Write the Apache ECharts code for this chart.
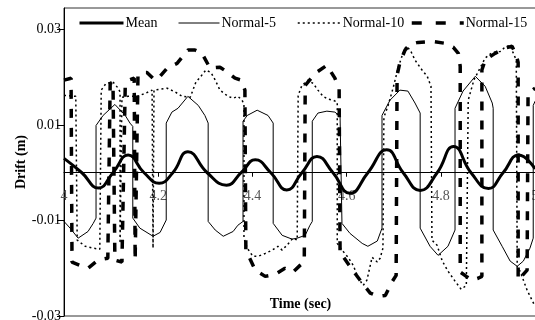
<!DOCTYPE html>
<html>
<head>
<meta charset="utf-8">
<script src="https://cdn.jsdelivr.net/npm/echarts@6/dist/echarts.min.js"></script>
<style>
  html, body { margin: 0; padding: 0; background: #fff; }
  #chart { width: 535px; height: 320px; }
</style>
</head>
<body>
<div id="chart"></div>
<script>
  // [time (sec), drift (m)]
  const meanPts = [
    [4.000, 0.0030], [4.038, 0], [4.073, -0.0032], [4.104, 0], [4.136, 0.0037], [4.170, 0],
    [4.202, -0.0022], [4.231, 0], [4.263, 0.0044], [4.304, 0], [4.345, -0.0026], [4.376, 0],
    [4.406, 0.0027], [4.439, 0], [4.473, -0.0036], [4.505, 0], [4.537, 0.0034], [4.571, 0],
    [4.607, -0.0043], [4.645, 0], [4.685, 0.0048], [4.720, 0], [4.756, -0.0037], [4.792, 0],
    [4.827, 0.0055], [4.864, 0], [4.901, -0.0033], [4.932, 0], [4.965, 0.0037], [5.000, 0.0008]
  ];
  const normal5Pts = [
    [4.000, -0.0102], [4.013, -0.0116], [4.030, -0.0137], [4.051, -0.0123], [4.062, -0.0106], [4.068, -0.0095],
    [4.068, 0.0099], [4.083, 0.0120], [4.108, 0.0143], [4.130, 0.0120], [4.140, 0.0104], [4.146, 0.0097],
    [4.146, -0.0095], [4.161, -0.0116], [4.189, -0.0133], [4.204, -0.0125], [4.217, -0.0099],
    [4.217, 0.0104], [4.229, 0.0127], [4.242, 0.0135], [4.263, 0.0160], [4.285, 0.0141], [4.299, 0.0120], [4.306, 0.0104],
    [4.306, -0.0102], [4.321, -0.0120], [4.338, -0.0133], [4.359, -0.0123], [4.369, -0.0110], [4.380, -0.0102],
    [4.380, 0.0108], [4.389, 0.0120], [4.410, 0.0131], [4.433, 0.0120], [4.444, 0.0104],
    [4.444, -0.0106], [4.463, -0.0131], [4.484, -0.0139], [4.495, -0.0137], [4.512, -0.0131], [4.522, -0.0110], [4.527, -0.0102],
    [4.527, 0.0108], [4.539, 0.0125], [4.558, 0.0129], [4.575, 0.0127], [4.586, 0.0118], [4.590, 0.0114],
    [4.590, -0.0106], [4.607, -0.0127], [4.633, -0.0148], [4.645, -0.0154], [4.665, -0.0143], [4.675, -0.0116],
    [4.675, 0.0120], [4.692, 0.0152], [4.713, 0.0173], [4.730, 0.0171], [4.745, 0.0146], [4.756, 0.0125],
    [4.756, -0.0116], [4.777, -0.0154], [4.794, -0.0173], [4.815, -0.0154], [4.830, -0.0120],
    [4.830, 0.0135], [4.847, 0.0171], [4.873, 0.0202], [4.894, 0.0181], [4.909, 0.0146], [4.911, 0.0135],
    [4.911, -0.0120], [4.930, -0.0154], [4.947, -0.0185], [4.962, -0.0196], [4.975, -0.0185], [4.989, -0.0158], [4.996, -0.0137],
    [4.996, 0.0141], [5.000, 0.0150]
  ];
  const normal10Pts = [
    [4.000, 0.0162], [4.025, 0.0160], [4.028, -0.0141], [4.045, -0.0154], [4.062, -0.0158], [4.076, -0.0160],
    [4.079, 0.0173], [4.089, 0.0187], [4.104, 0.0190], [4.115, 0.0177], [4.119, 0.0169],
    [4.119, -0.0148], [4.123, -0.0152], [4.123, 0.0158], [4.136, 0.0160], [4.155, 0.0160], [4.172, 0.0166], [4.187, 0.0173],
    [4.189, -0.0158], [4.191, 0.0173], [4.204, 0.0175], [4.219, 0.0177], [4.236, 0.0169], [4.251, 0.0160], [4.268, 0.0158],
    [4.280, 0.0190], [4.289, 0.0200], [4.301, 0.0215], [4.312, 0.0210], [4.321, 0.0194], [4.331, 0.0173], [4.348, 0.0160],
    [4.359, 0.0156], [4.369, 0.0160], [4.378, 0.0152], [4.382, 0.0143],
    [4.382, -0.0137], [4.389, -0.0158], [4.401, -0.0175], [4.412, -0.0175], [4.427, -0.0169], [4.442, -0.0162],
    [4.454, -0.0154], [4.463, -0.0162], [4.473, -0.0152], [4.486, -0.0137], [4.495, -0.0141],
    [4.497, 0.0162], [4.505, 0.0183], [4.518, 0.0194], [4.529, 0.0187], [4.539, 0.0173], [4.550, 0.0160],
    [4.561, 0.0154], [4.571, 0.0152], [4.580, 0.0148],
    [4.580, -0.0148], [4.590, -0.0162], [4.603, -0.0177], [4.614, -0.0194], [4.624, -0.0219], [4.635, -0.0236],
    [4.643, -0.0225], [4.654, -0.0177], [4.665, -0.0187], [4.671, -0.0179], [4.677, -0.0158],
    [4.679, 0.0116], [4.688, 0.0141], [4.699, 0.0179], [4.709, 0.0219], [4.718, 0.0246], [4.726, 0.0265],
    [4.735, 0.0257], [4.745, 0.0236], [4.760, 0.0215], [4.771, 0.0202], [4.779, 0.0181],
    [4.781, -0.0141], [4.792, -0.0152], [4.803, -0.0185], [4.815, -0.0206], [4.830, -0.0227], [4.843, -0.0244], [4.854, -0.0236],
    [4.858, 0.0152], [4.870, 0.0194], [4.883, 0.0219], [4.894, 0.0240], [4.909, 0.0252], [4.926, 0.0254],
    [4.936, 0.0263], [4.947, 0.0267], [4.953, 0.0252], [4.960, 0.0236],
    [4.962, -0.0200], [4.968, -0.0206], [4.983, -0.0246], [5.000, -0.0280]
  ];
  const normal15Pts = [
    [4.000, 0.0194], [4.015, 0.0198], [4.017, -0.0187], [4.034, -0.0194], [4.051, -0.0200], [4.072, -0.0183], [4.093, -0.0179],
    [4.098, 0.0187], [4.104, 0.0190], [4.108, -0.0183], [4.123, -0.0187], [4.130, 0.0183], [4.138, 0.0194], [4.149, 0.0198],
    [4.151, -0.0183], [4.155, -0.0183], [4.157, 0.0204], [4.165, 0.0210], [4.176, 0.0210], [4.193, 0.0194], [4.204, 0.0202],
    [4.219, 0.0219], [4.240, 0.0229], [4.263, 0.0257], [4.278, 0.0257], [4.293, 0.0250], [4.310, 0.0219], [4.331, 0.0221],
    [4.348, 0.0210], [4.363, 0.0198], [4.376, 0.0194], [4.384, 0.0173],
    [4.386, -0.0162], [4.406, -0.0204], [4.427, -0.0217], [4.448, -0.0213], [4.469, -0.0200], [4.486, -0.0208],
    [4.501, -0.0194], [4.510, -0.0187],
    [4.512, 0.0183], [4.533, 0.0208], [4.558, 0.0225], [4.575, 0.0198], [4.584, 0.0177],
    [4.586, -0.0173], [4.592, -0.0175], [4.614, -0.0206], [4.633, -0.0231], [4.650, -0.0252], [4.667, -0.0259],
    [4.682, -0.0257], [4.696, -0.0229], [4.705, -0.0215],
    [4.707, 0.0204], [4.713, 0.0231], [4.724, 0.0257], [4.735, 0.0269], [4.752, 0.0273], [4.781, 0.0275],
    [4.809, 0.0271], [4.826, 0.0263], [4.837, 0.0250], [4.841, 0.0223],
    [4.841, -0.0208], [4.854, -0.0217], [4.866, -0.0225], [4.879, -0.0221], [4.887, -0.0217],
    [4.887, 0.0215], [4.894, 0.0236], [4.915, 0.0250], [4.936, 0.0261], [4.951, 0.0265], [4.960, 0.0246], [4.964, 0.0231],
    [4.964, -0.0225], [4.983, -0.0204], [4.985, 0.0166], [5.000, 0.0177]
  ];
  const yTicks = [-0.03, -0.01, 0.01, 0.03];

  const chart = echarts.init(document.getElementById('chart'));
  const font = 'Liberation Serif';

  const yMin = -0.03, yMax = 0.0345;
  const gridTop = 8, gridBottom = 4, chartH = 320;
  const plotH = chartH - gridTop - gridBottom;
  // lift the time axis up onto the zero line
  const zeroOffset = -plotH * (0 - yMin) / (yMax - yMin);

  function legendAt(name, left, w, lw, type) {
    return {
      data: [name],
      left: left,
      top: 16,
      padding: 0,
      itemWidth: w,
      itemHeight: 14,
      selectedMode: false,
      itemStyle: { opacity: 0 },
      lineStyle: { width: lw, type: type, color: '#000' },
      textStyle: { fontFamily: font, fontSize: 14, color: '#000', padding: [0, 0, 0, -3] }
    };
  }

  function lineSeries(name, data, width, type, extra) {
    return Object.assign({
      name: name,
      type: 'line',
      data: data,
      symbol: 'none',
      showSymbol: false,
      animation: false,
      lineStyle: { color: '#000', width: width, type: type },
      itemStyle: { color: '#000' }
    }, extra || {});
  }

  const option = {
    animation: false,
    grid: {
      show: true,
      left: 64,
      right: -2,
      top: gridTop,
      bottom: gridBottom,
      outerBoundsMode: 'none',
      containLabel: false,
      borderColor: '#333',
      borderWidth: 1,
      backgroundColor: 'transparent'
    },
    legend: [
      legendAt('Mean', 78, 44, 3, 'solid'),
      legendAt('Normal-5', 178, 41, 1, 'solid'),
      legendAt('Normal-10', 297, 43, 1.5, [2, 3]),
      legendAt('Normal-15', 410, 52, 3.5, [10, 14])
    ],
    xAxis: {
      type: 'value',
      min: 4,
      max: 5.004,
      interval: 0.2,
      offset: zeroOffset,
      name: 'Time (sec)',
      nameLocation: 'middle',
      nameGap: 125,
      nameMoveOverlap: false,
      nameTextStyle: { fontFamily: font, fontSize: 14, fontWeight: 'bold', color: '#000' },
      axisLine: { onZero: false, lineStyle: { color: '#000', width: 1 } },
      axisTick: { length: 4, lineStyle: { color: '#000' } },
      axisLabel: { fontFamily: font, fontSize: 14, color: '#555', margin: 17, showMaxLabel: false },
      splitLine: { show: false }
    },
    yAxis: {
      type: 'value',
      min: yMin,
      max: yMax,
      name: 'Drift (m)',
      nameLocation: 'middle',
      nameGap: 36,
      nameMoveOverlap: false,
      nameTextStyle: { fontFamily: font, fontSize: 14, fontWeight: 'bold', color: '#000' },
      axisLine: { onZero: false, lineStyle: { color: '#000', width: 1 } },
      axisTick: { length: 7, customValues: yTicks, lineStyle: { color: '#000' } },
      axisLabel: { fontFamily: font, fontSize: 14, color: '#000', margin: 3, customValues: yTicks },
      splitLine: { show: false }
    },
    series: [
      lineSeries('Mean', meanPts, 3, 'solid', { smooth: 0.5, z: 5 }),
      lineSeries('Normal-5', normal5Pts, 1, 'solid', { z: 3 }),
      lineSeries('Normal-10', normal10Pts, 1.5, [2, 3], { z: 2 }),
      lineSeries('Normal-15', normal15Pts, 3.5, [9, 10], { z: 1 })
    ]
  };

  chart.setOption(option);
</script>
</body>
</html>
